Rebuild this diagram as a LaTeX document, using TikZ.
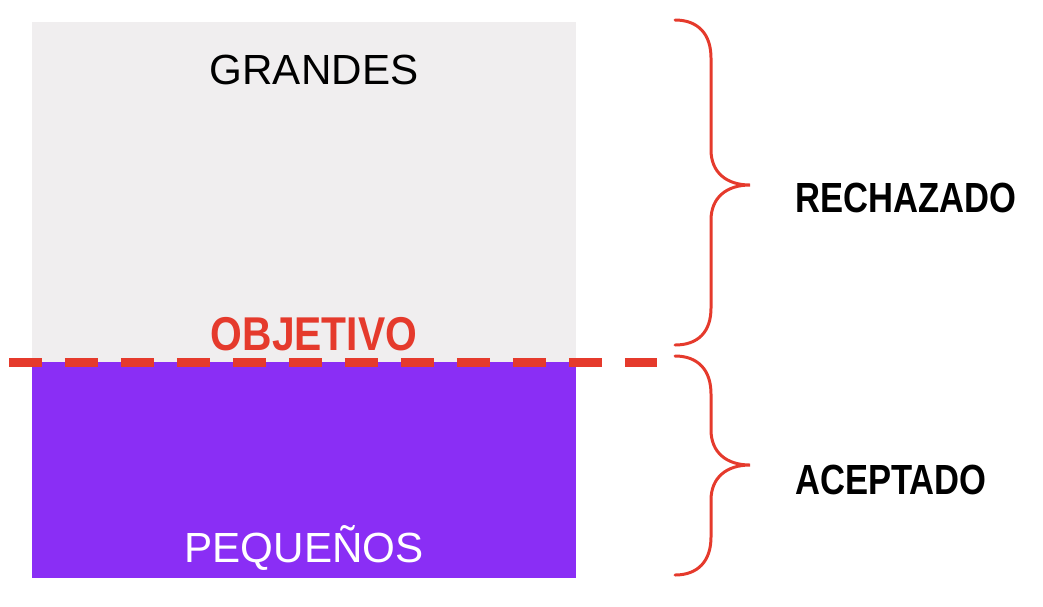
\documentclass[tikz,border=0pt]{standalone}
\usepackage{fontspec}
\setmainfont{Liberation Sans}
\usetikzlibrary{positioning}
\definecolor{zonagris}{RGB}{240, 238, 239}
\definecolor{zonamorada}{RGB}{138, 46, 245}
\definecolor{rojoobj}{RGB}{229, 58, 44}

\begin{document}
\begin{tikzpicture}[
  x=0.02cm, y=-0.02cm,
  zonelabel/.style={font=\fontsize{24}{28}\selectfont, inner sep=0pt},
  verdict/.style={font=\fontsize{24}{28}\selectfont\bfseries, inner sep=0pt,
    xscale=0.82, anchor=west},
  bracket/.style={draw=rojoobj, line width=1.7pt, line cap=round}
]
  \useasboundingbox (0,0) rectangle (1043,606);

  % zonas
  \fill[zonagris] (32,22) rectangle (576,362);
  \fill[zonamorada] (32,362) rectangle (576,578);

  \node[zonelabel] (grandes) at (314,70) {GRANDES};
  \node[zonelabel, text=white] (pequenos) at (304,548) {PEQUEÑOS};

  % linea objetivo
  \draw[rojoobj, line width=0.18cm, dash pattern=on 0.66cm off 0.46cm]
    (9,362) -- (657,362);
  \node[zonelabel, font=\fontsize{27}{30}\selectfont\bfseries, text=rojoobj,
        xscale=0.86] (objetivo) at (314,334) {OBJETIVO};

  % llaves
  \draw[bracket] (675,20) .. controls (698,20) and (711,34) .. (711,58)
    -- (711,150) .. controls (711,172) and (726,185) .. (750,185)
    .. controls (726,185) and (711,198) .. (711,220)
    -- (711,308) .. controls (711,332) and (698,345) .. (675,345);
  \draw[bracket] (675,356) .. controls (698,356) and (711,370) .. (711,394)
    -- (711,430) .. controls (711,452) and (726,465) .. (750,465)
    .. controls (726,465) and (711,478) .. (711,500)
    -- (711,537) .. controls (711,561) and (698,575) .. (675,575);

  \node[verdict] (rechazado) at (795,198) {RECHAZADO};
  \node[verdict] (aceptado) at (795,480) {ACEPTADO};
\end{tikzpicture}
\end{document}
